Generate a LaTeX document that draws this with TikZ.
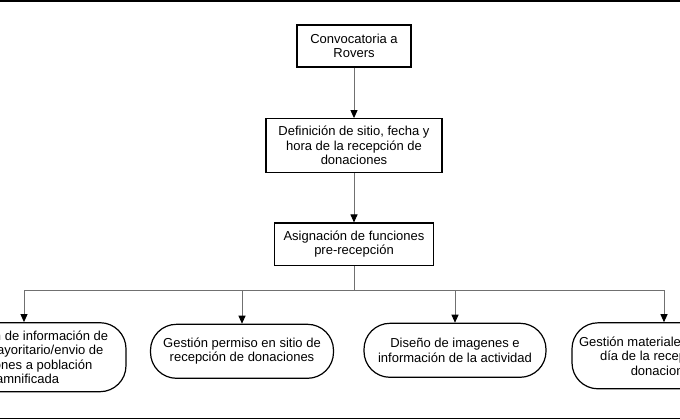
\documentclass[tikz,border=0pt]{standalone}
\usepackage{fontspec}
\setmainfont{Liberation Sans}
\usetikzlibrary{arrows.meta}
\definecolor{conncol}{HTML}{707070}
\begin{document}
\begin{tikzpicture}[x=1pt,y=-1pt,
  txt/.style={font=\fontsize{13}{14.5}\selectfont, align=center, inner sep=0pt},
  procbox/.style={txt, draw=black, line width=1.2pt, fill=white},
  termbox/.style={txt, draw=black, line width=1.2pt, fill=white, rounded corners=26pt},
  conn/.style={draw=conncol, line width=1pt},
  arr/.style={conn, -{Triangle[length=8pt,width=7pt,black]}}
]
\useasboundingbox (0,0) rectangle (680,420);
\clip (0,0) rectangle (680,420);
\fill[white] (0,0) rectangle (680,420);

% frame lines
\coordinate (tl) at (0,1.5);
\coordinate (tr) at (680,1.5);
\coordinate (bl) at (0,418.5);
\coordinate (br) at (680,418.5);
\draw[black, line width=2pt] (tl) -- (tr);
\draw[black, line width=1.7pt] (bl) -- (br);

% process boxes
\node[procbox, minimum width=114pt, minimum height=42pt] (b1) at (354,46) {Convocatoria a\\Rovers};
\node[procbox, minimum width=176pt, minimum height=54pt] (b2) at (354,145.7) {Definición de sitio, fecha y\\hora de la recepción de\\donaciones};
\node[procbox, minimum width=159pt, minimum height=42.5pt] (b3) at (354,244.3) {Asignación de funciones\\pre-recepción};

% terminal boxes
\node[termbox, minimum width=204pt, minimum height=69pt] (ta) at (24,357.2) {Recepción de información de\\acopio mayoritario/envio de\\donaciones a población\\damnificada};
\node[termbox, minimum width=183pt, minimum height=54pt] (tb) at (242,351.3) {Gestión permiso en sitio de\\recepción de donaciones};
\node[termbox, minimum width=182pt, minimum height=54pt] (tc) at (455,350.3) {Diseño de imagenes e\\información de la actividad};
\node[termbox, minimum width=184pt, minimum height=66pt] (td) at (664,355.8) {Gestión materiales durante el\\día de la recepción de\\donaciones};

% connectors
\coordinate (j) at (354,290);
\draw[arr] (b1) -- (b2);
\draw[arr] (b2) -- (b3);
\draw[conn] (b3.south) -- (j);
\draw[arr] (j) -| (ta.north);
\draw[arr] (j) -| (tb.north);
\draw[arr] (j) -| (tc.north);
\draw[arr] (j) -| (td.north);
\end{tikzpicture}
\end{document}
